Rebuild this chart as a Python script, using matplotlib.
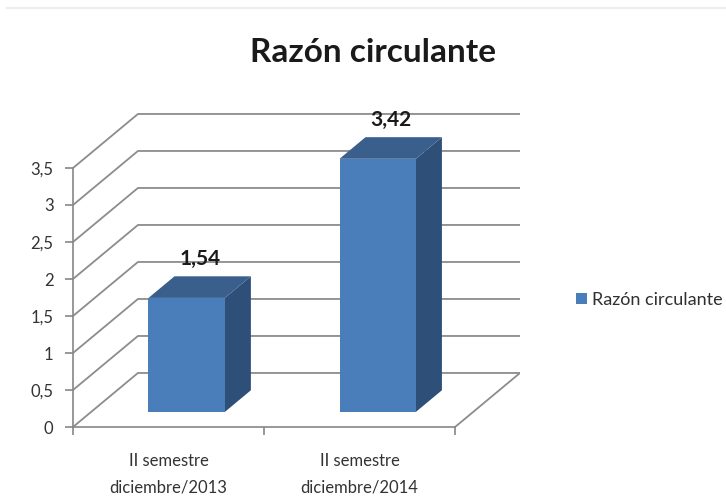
import matplotlib.pyplot as plt
from matplotlib.patches import Polygon, Patch
from matplotlib.lines import Line2D

categories = ["II semestre\ndiciembre/2013", "II semestre\ndiciembre/2014"]
values = [1.54, 3.42]
value_labels = ["1,54", "3,42"]
yticks = [0, 0.5, 1, 1.5, 2, 2.5, 3, 3.5]
ytick_labels = ["0", "0,5", "1", "1,5", "2", "2,5", "3", "3,5"]
series_name = "Razón circulante"

plt.rcParams['font.family'] = ['Lato', 'DejaVu Sans']

# oblique depth offset (data units) for the full floor depth
DX, DY = 0.34, 0.73
grid_col = "#8c8c8c"
front_col, top_col, side_col = "#4a7ebb", "#3a5f8c", "#2e4f78"


def proj(x, v, d):
    return (x + d * DX, v + d * DY)


fig = plt.figure(figsize=(7.26, 5.03), dpi=100)
W, H = 726, 503
x0, x1 = 73, 520
ax = fig.add_axes([x0 / W, (H - 427) / H, (x1 - x0) / W, 4.3 * 74 / H])
ax.set_xlim(0, 2 + DX)
ax.set_ylim(0, 4.3)
ax.set_facecolor("none")
for s in ["top", "right"]:
    ax.spines[s].set_visible(False)
for s in ["left", "bottom"]:
    ax.spines[s].set_color("#868686")
    ax.spines[s].set_linewidth(1.2)
ax.spines["left"].set_bounds(0, yticks[-1])
ax.spines["bottom"].set_bounds(0, len(categories))
ax.set_yticks(yticks)
ax.set_yticklabels(ytick_labels)
ax.set_xticks(range(len(categories) + 1))
ax.set_xticklabels([""] * (len(categories) + 1))
ax.set_xticks([i + 0.5 for i in range(len(categories))], minor=True)
ax.set_xticklabels(categories, minor=True, fontsize=12, color="#333333",
                   linespacing=1.8)
ax.tick_params(axis="x", which="minor", length=0, pad=19)
ax.tick_params(axis="both", which="major", length=6, color="#868686",
               width=1.2, labelsize=12, labelcolor="#333333")
ax.tick_params(axis="y", pad=8)

# walls
for v in yticks:
    a = proj(0, v, 0)
    b = proj(0, v, 1)
    c = proj(len(categories), v, 1)
    ax.add_line(Line2D([a[0], b[0], c[0]], [a[1], b[1], c[1]],
                       color=grid_col, lw=1.3, zorder=1))
a = proj(len(categories), 0, 0)
b = proj(len(categories), 0, 1)
ax.add_line(Line2D([a[0], b[0]], [a[1], b[1]], color=grid_col, lw=1.3, zorder=1))

# bars
half = 0.2
d0, d1 = 0.28, 0.68
for i, v in enumerate(values):
    xl, xr = i + 0.5 - half, i + 0.5 + half
    front = [proj(xl, 0, d0), proj(xr, 0, d0), proj(xr, v, d0), proj(xl, v, d0)]
    top = [proj(xl, v, d0), proj(xr, v, d0), proj(xr, v, d1), proj(xl, v, d1)]
    side = [proj(xr, 0, d0), proj(xr, 0, d1), proj(xr, v, d1), proj(xr, v, d0)]
    ax.add_patch(Polygon(side, closed=True, fc=side_col, ec="none", zorder=3))
    ax.add_patch(Polygon(top, closed=True, fc=top_col, ec="none", zorder=3))
    ax.add_patch(Polygon(front, closed=True, fc=front_col, ec="none", zorder=4))
    lx, ly = proj(i + 0.5, v, (d0 + d1) / 2)
    ax.text(lx, ly + 0.25, value_labels[i], ha="center", va="bottom",
            fontsize=15, fontweight="bold", color="#1a1a1a", zorder=5)

fig.text(373 / W, 1 - 52 / H, "Razón circulante", ha="center", va="center",
         fontsize=24, fontweight="bold", color="#1a1a1a")

fig.legend(handles=[Patch(fc=front_col, ec="none", label=series_name)],
           loc="center left", bbox_to_anchor=(560 / W, 1 - 300 / H),
           frameon=False, handlelength=0.6, handleheight=0.6,
           handletextpad=0.3, fontsize=13, labelcolor="#303030")

fig.add_artist(Line2D([7 / W, 1], [1 - 8 / H, 1 - 8 / H], color="#eeeeee",
                      lw=1.5, transform=fig.transFigure))

fig.savefig("out.png", dpi=100)
